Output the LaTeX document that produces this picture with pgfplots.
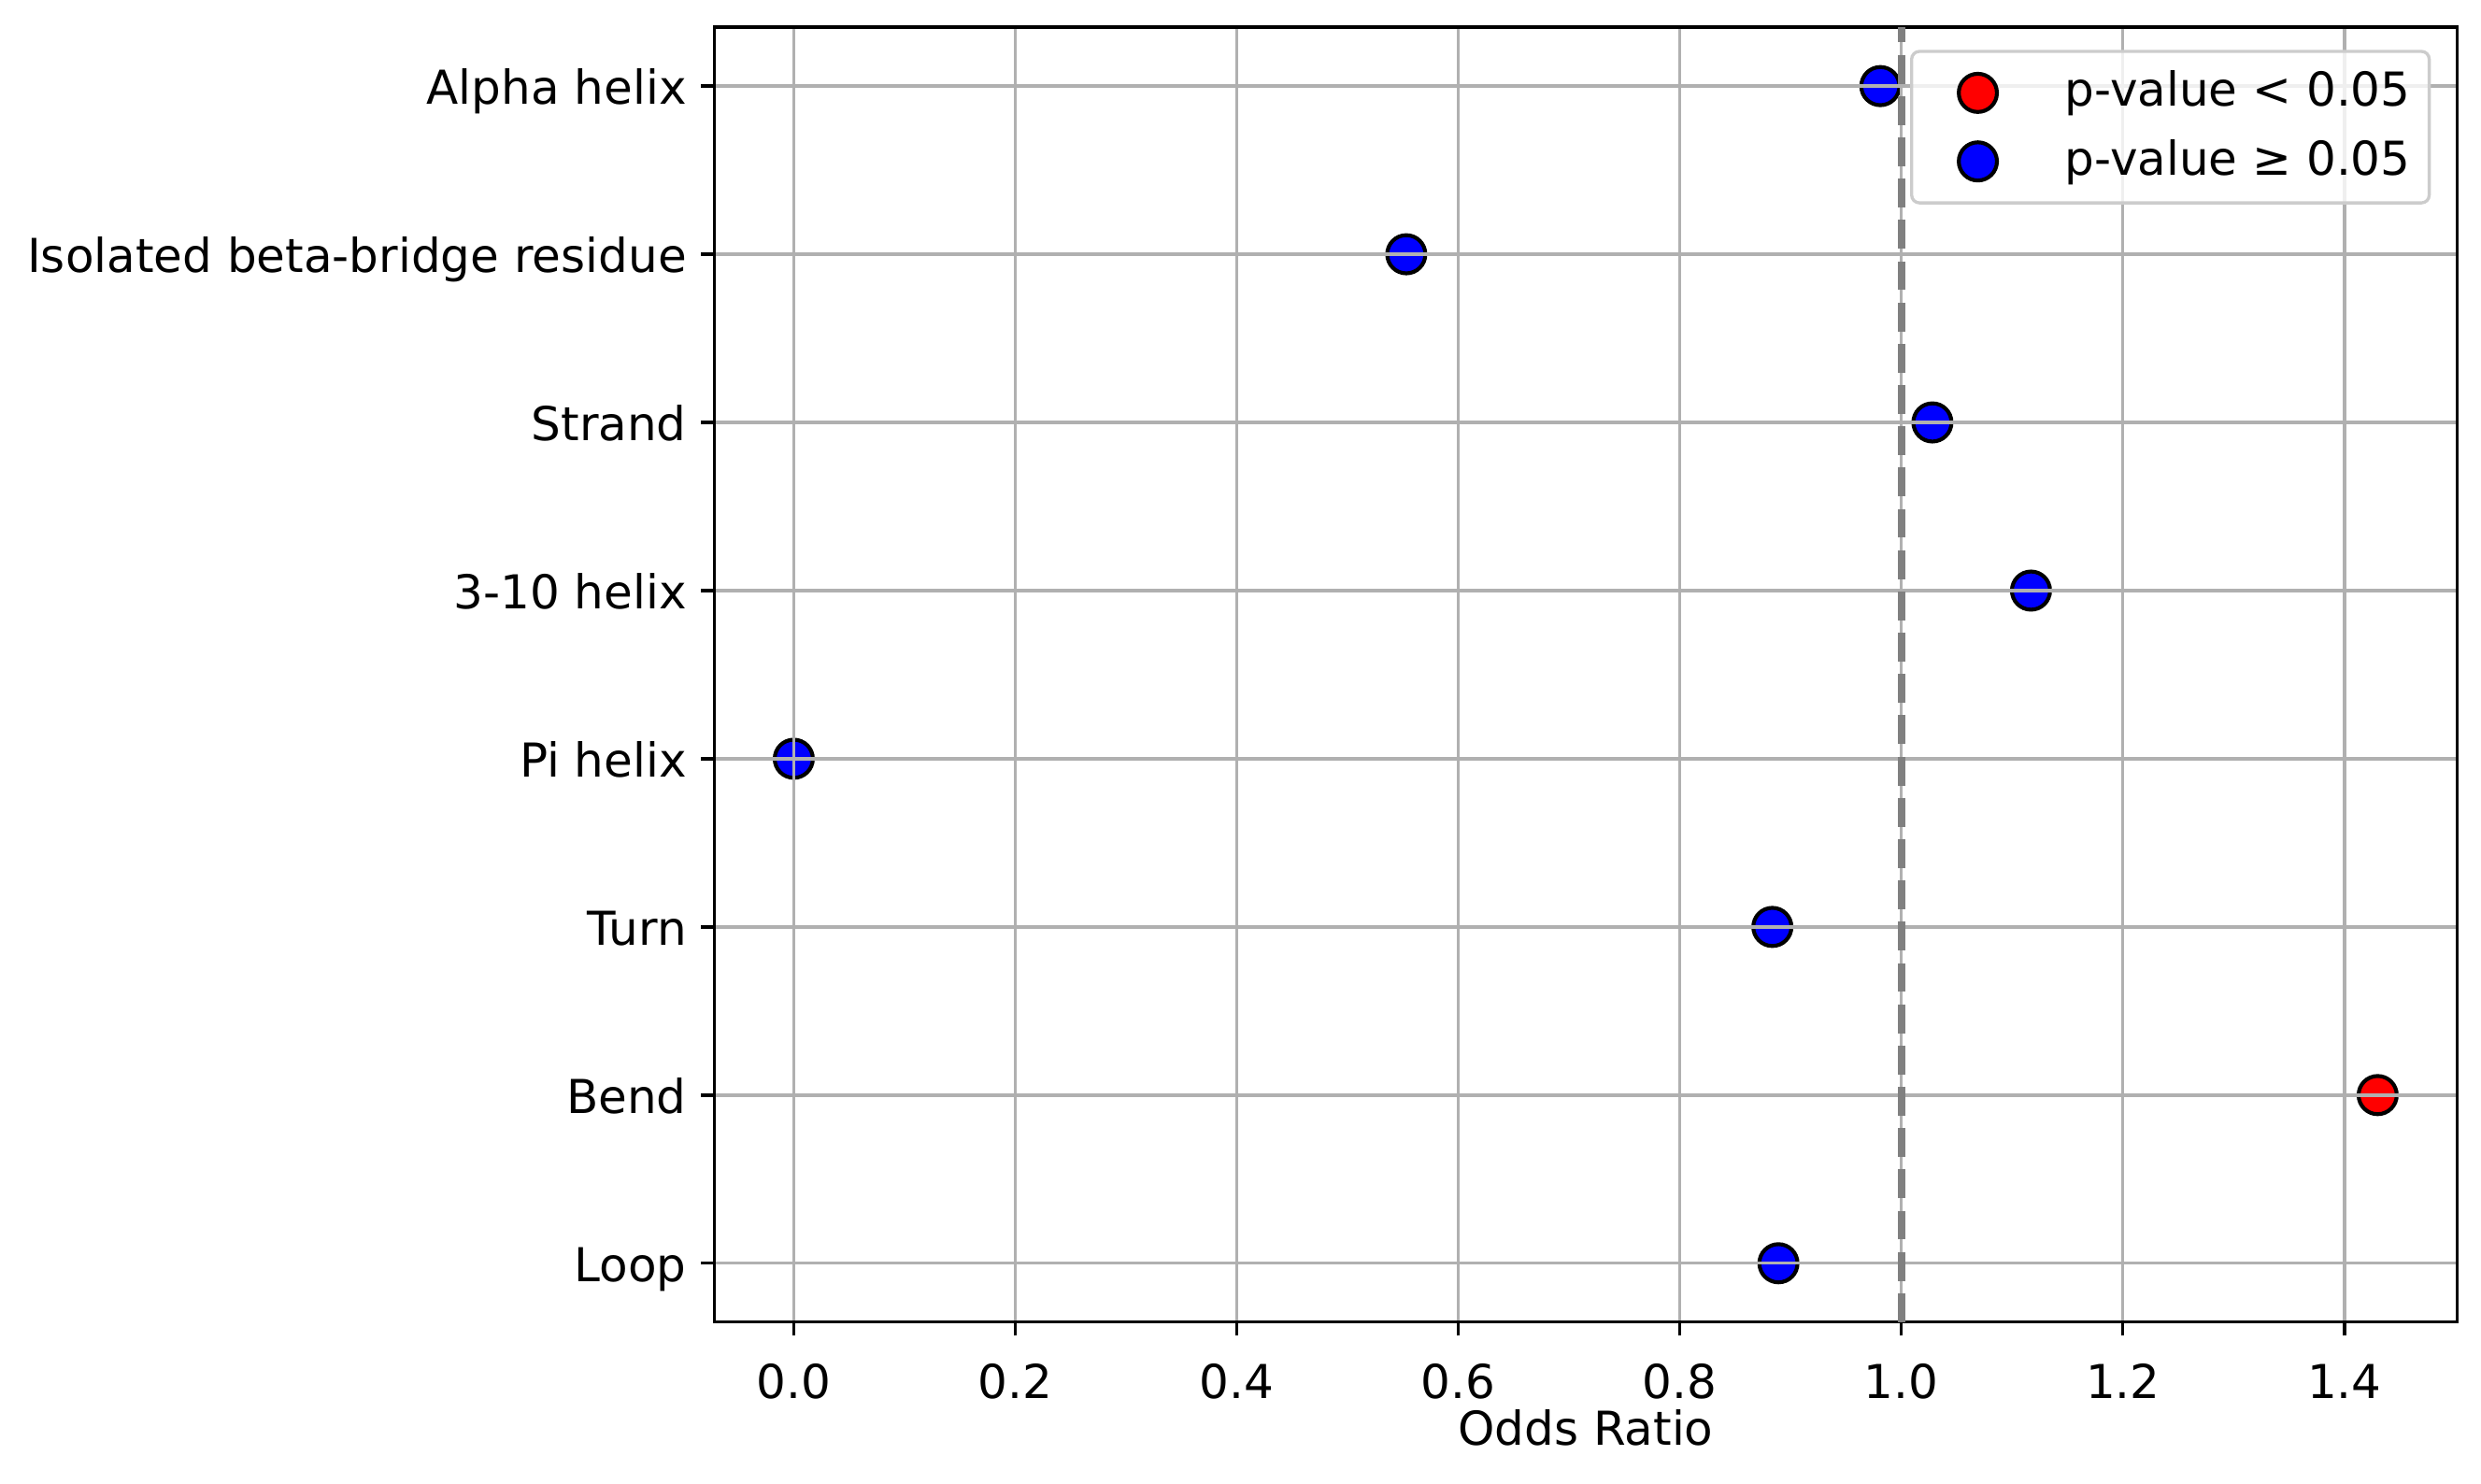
\documentclass[border=0pt]{standalone}
\usepackage{fontspec}
\setmainfont{DejaVu Sans}
\usepackage{pgfplots}
\pgfplotsset{compat=1.18}
\definecolor{gridgray}{HTML}{B0B0B0}
\definecolor{legframe}{HTML}{CCCCCC}
\definecolor{refgray}{HTML}{808080}
\begin{document}
\begin{tikzpicture}
\begin{axis}[
  scale only axis, width=447.4pt, height=332.5pt,
  xmin=-0.0715, xmax=1.5015, ymin=-0.35, ymax=7.35,
  xtick={0,0.2,0.4,0.6,0.8,1.0,1.2,1.4},
  xticklabels={0.0,0.2,0.4,0.6,0.8,1.0,1.2,1.4},
  ytick={0,1,2,3,4,5,6,7},
  yticklabels={Loop,Bend,Turn,Pi helix,3-10 helix,Strand,Isolated beta-bridge residue,Alpha helix},
  tick pos=left, tick align=outside, major tick length=3.5pt,
  tick style={black, line width=0.8pt},
  axis line style={line width=0.8pt},
  grid=major, major grid style={gridgray, line width=0.8pt},
  set layers=axis on top, axis on top,
  ticklabel style={font=\fontsize{12}{14.4}\selectfont, inner sep=0pt},
  xticklabel style={anchor=base, yshift=-16.1pt},
  yticklabel style={anchor=base east, yshift=-4.7pt, xshift=-3.5pt},
  xlabel={Odds Ratio},
  every axis x label/.style={at={(axis description cs:0.5,0)}, anchor=base, yshift=-31.5pt,
    font=\fontsize{12}{14.4}\selectfont, inner sep=0pt},
  legend image code/.code={\path (-11.8pt,0pt) (10pt,0pt); \draw[#1, fill opacity=1, draw opacity=1] plot coordinates {(0pt,0pt)};},
  legend style={at={(1,1)}, anchor=north east, xshift=-6.7pt, yshift=-5.8pt,
    draw=legframe, line width=0.8pt, rounded corners=2pt, fill=white, fill opacity=0.8, text opacity=1,
    font=\fontsize{12}{14.4}\selectfont, inner xsep=4.8pt, inner ysep=4.65pt,
    nodes={inner sep=0pt, text height=9.5pt, text depth=2.5pt},
    row sep=5.6pt, column sep=11.9pt},
  legend cell align=left,
]
\addplot[only marks, mark=*, mark size=4.9pt, mark options={draw=black, fill=red, line width=1pt, fill opacity=1, draw opacity=1}]
  coordinates {(1.430,1)};
\addlegendentry{p-value < 0.05}
\addplot[only marks, mark=*, mark size=4.9pt, mark options={draw=black, fill=blue, line width=1pt, fill opacity=1, draw opacity=1}]
  coordinates {(0.981,7) (0.553,6) (1.028,5) (1.117,4) (0.000,3) (0.8835,2) (0.889,0)};
\addlegendentry{p-value ≥ 0.05}
\addplot[on layer=axis foreground, forget plot, refgray, line width=2pt, dash pattern=on 7.4pt off 3.2pt]
  coordinates {(1,-0.35) (1,7.35)};
\end{axis}
\path (current axis.south west) ++(-183.5pt,-41.4pt);
\path (current axis.north east) ++(6.2pt,7pt);
\end{tikzpicture}
\end{document}
